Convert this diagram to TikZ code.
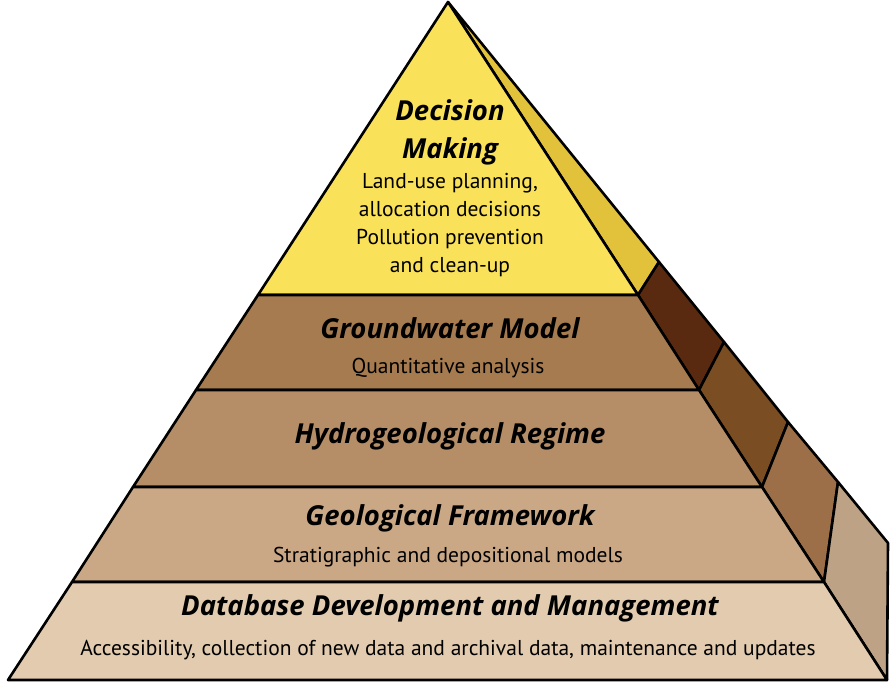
\documentclass[tikz,border=0pt]{standalone}
\usepackage{fontspec}
\setmainfont{PT Sans}
\newfontfamily\headfont{Open Sans}
\usetikzlibrary{calc}

\definecolor{decisionFront}{HTML}{F9E15A}
\definecolor{decisionSide}{HTML}{E2C23A}
\definecolor{modelFront}{HTML}{A67B4F}
\definecolor{modelSide}{HTML}{5A2A10}
\definecolor{regimeFront}{HTML}{B58E67}
\definecolor{regimeSide}{HTML}{7B4D22}
\definecolor{frameFront}{HTML}{CAA885}
\definecolor{frameSide}{HTML}{9C6F48}
\definecolor{baseFront}{HTML}{E2CBAF}
\definecolor{baseSide}{HTML}{BEA286}

\begin{document}
\begin{tikzpicture}[x=1pt, y=-1pt,
    face/.style={draw=black, line width=2.6pt, line join=round},
    title/.style={font=\headfont\fontsize{27.5}{38}\selectfont\bfseries\itshape, align=center, inner sep=0pt},
    note/.style={font=\fontsize{21.5}{28}\selectfont, align=center, inner sep=0pt}
]
    \useasboundingbox (0,0) rectangle (895,687);

    % Corners of the pyramid
    \coordinate (apex) at (448,2);
    \coordinate (bl) at (8,680);
    \coordinate (br) at (887,680);
    \coordinate (back) at (888,543);

    % Layer edges, left and right
    \coordinate (l1) at (258,295);  \coordinate (r1) at (638,295);
    \coordinate (l2) at (196,390);  \coordinate (r2) at (699,390);
    \coordinate (l3) at (133,487);  \coordinate (r3) at (762,487);
    \coordinate (l4) at (72,582);   \coordinate (r4) at (824,582);

    % Points on the back edge
    \coordinate (s1) at (659,262);
    \coordinate (s2) at (724,342);
    \coordinate (s3) at (788,422);
    \coordinate (s4) at (838,482);

    % Side face
    \draw[face, fill=decisionSide] (apex) -- (r1) -- (s1) -- cycle;
    \draw[face, fill=modelSide] (r1) -- (r2) -- (s2) -- (s1) -- cycle;
    \draw[face, fill=regimeSide] (r2) -- (r3) -- (s3) -- (s2) -- cycle;
    \draw[face, fill=frameSide] (r3) -- (r4) -- (s4) -- (s3) -- cycle;
    \draw[face, fill=baseSide] (r4) -- (br) -- (back) -- (s4) -- cycle;

    % Front face
    \draw[face, fill=decisionFront] (apex) -- (l1) -- (r1) -- cycle;
    \draw[face, fill=modelFront] (l1) -- (l2) -- (r2) -- (r1) -- cycle;
    \draw[face, fill=regimeFront] (l2) -- (l3) -- (r3) -- (r2) -- cycle;
    \draw[face, fill=frameFront] (l3) -- (l4) -- (r4) -- (r3) -- cycle;
    \draw[face, fill=baseFront] (l4) -- (bl) -- (br) -- (r4) -- cycle;

    % Labels
    \node[title] (decision) at (450,132) {Decision\\Making};
    \node[note] (decisionNote) at (450,225) {Land-use planning,\\allocation decisions\\Pollution prevention\\and clean-up};
    \node[title] (model) at (450,328) {Groundwater Model};
    \node[note] (modelNote) at (448,368) {Quantitative analysis};
    \node[title] (regime) at (450,436) {Hydrogeological Regime};
    \node[title] (frame) at (450,518) {Geological Framework};
    \node[note] (frameNote) at (448,557) {Stratigraphic and depositional models};
    \node[title] (base) at (450,608) {Database Development and Management};
    \node[note] (baseNote) at (448,650) {Accessibility, collection of new data and archival data, maintenance and updates};

\end{tikzpicture}
\end{document}
